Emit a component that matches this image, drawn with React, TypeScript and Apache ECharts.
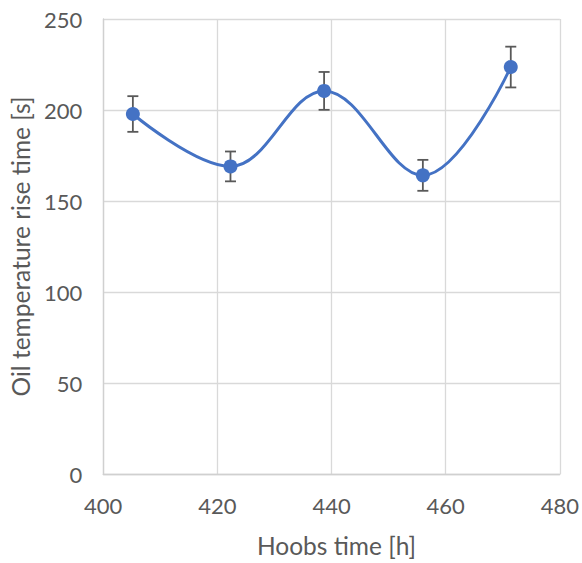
import React, { useEffect, useRef } from "react";
import * as echarts from "echarts";

// Hoobs meter reading at each measurement [h]
const hoobsHours = [405.2, 422.3, 438.7, 456.0, 471.4];
// Mean oil temperature rise time [s]
const riseTime = [197.8, 169.0, 210.5, 164.1, 223.6];
// Error bar half-length [s]
const riseTimeError = [9.8, 8.2, 10.4, 8.5, 11.2];

const xTicks = { min: 400, max: 480, interval: 20 };
const yTicks = { min: 0, max: 250, interval: 50 };

const FONT = "Lato, 'Liberation Sans', sans-serif";
const TEXT = "#595959";
const BLUE = "#4472C4";

export default function App() {
  const ref = useRef<HTMLDivElement>(null);

  useEffect(() => {
    document.body.style.margin = "0";
    if (!ref.current) return;
    const chart = echarts.init(ref.current, null, { renderer: "svg" });

    const points = hoobsHours.map((x, i) => [x, riseTime[i]]);
    const bars = hoobsHours.map((x, i) => [
      x,
      riseTime[i] - riseTimeError[i],
      riseTime[i] + riseTimeError[i],
    ]);

    chart.setOption({
      animation: false,
      backgroundColor: "#ffffff",
      grid: { left: 102, right: 22, top: 19, bottom: 85, containLabel: false },
      xAxis: {
        type: "value",
        min: xTicks.min,
        max: xTicks.max,
        interval: xTicks.interval,
        name: "Hoobs time [h]",
        nameLocation: "middle",
        nameGap: 59,
        nameTextStyle: { color: TEXT, fontFamily: FONT, fontSize: 24.5, padding: [0, 0, 0, 10] },
        axisLine: { show: true, lineStyle: { color: "#d0d0d0", width: 1.3 } },
        axisTick: { show: false },
        axisLabel: { color: TEXT, fontFamily: FONT, fontSize: 22, margin: 20 },
        splitLine: { show: true, lineStyle: { color: "#d9d9d9", width: 1.3 } },
      },
      yAxis: {
        type: "value",
        min: yTicks.min,
        max: yTicks.max,
        interval: yTicks.interval,
        name: "Oil temperature rise time [s]",
        nameLocation: "middle",
        nameGap: 68,
        nameRotate: 90,
        nameTextStyle: { color: TEXT, fontFamily: FONT, fontSize: 24.5 },
        axisLine: { show: true, lineStyle: { color: "#d0d0d0", width: 1.3 } },
        axisTick: { show: false },
        axisLabel: { color: TEXT, fontFamily: FONT, fontSize: 22, margin: 21 },
        splitLine: { show: true, lineStyle: { color: "#d9d9d9", width: 1.3 } },
      },
      series: [
        {
          type: "custom",
          z: 1,
          data: bars,
          renderItem: (_params: any, api: any) => {
            const x = api.value(0);
            const lo = api.coord([x, api.value(1)]);
            const hi = api.coord([x, api.value(2)]);
            const cap = 5.5;
            const style = { stroke: "#595959", lineWidth: 1.8 };
            return {
              type: "group",
              children: [
                { type: "line", shape: { x1: lo[0], y1: lo[1], x2: hi[0], y2: hi[1] }, style },
                { type: "line", shape: { x1: hi[0] - cap, y1: hi[1], x2: hi[0] + cap, y2: hi[1] }, style },
                { type: "line", shape: { x1: lo[0] - cap, y1: lo[1], x2: lo[0] + cap, y2: lo[1] }, style },
              ],
            };
          },
        },
        {
          type: "line",
          z: 3,
          data: points,
          smooth: 0.38,
          symbol: "circle",
          symbolSize: 14,
          itemStyle: { color: BLUE },
          lineStyle: { color: BLUE, width: 3 },
        },
      ],
    });

    return () => chart.dispose();
  }, []);

  return <div ref={ref} style={{ width: 582, height: 563 }} />;
}
